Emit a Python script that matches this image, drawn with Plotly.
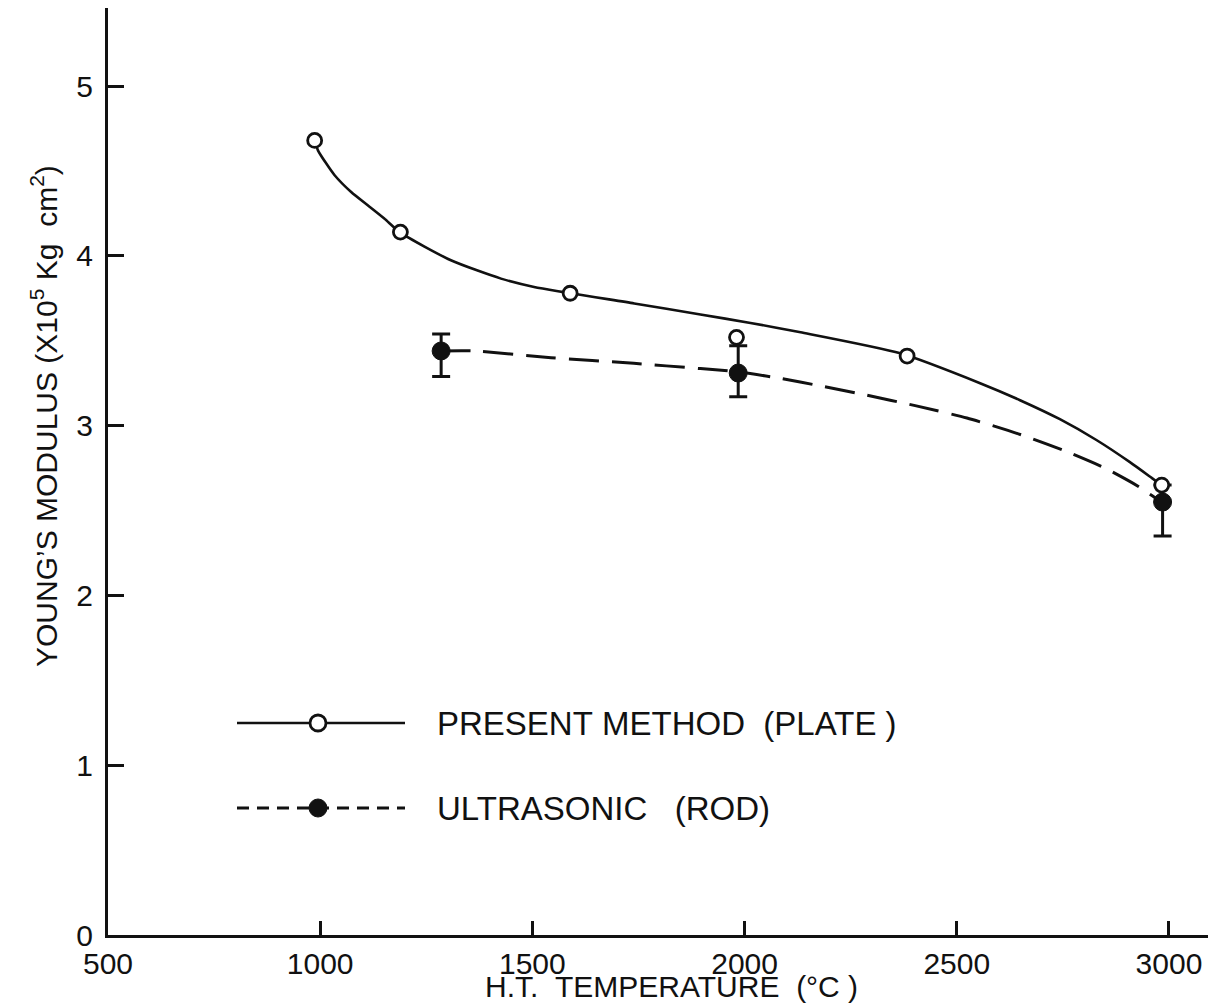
import plotly.graph_objects as go

# ---- data ----
plate_x = [987, 1189, 1589, 1981, 2383, 2983]
plate_y = [4.68, 4.14, 3.78, 3.52, 3.41, 2.65]

rod_x = [1285, 1985, 2985]
rod_y = [3.44, 3.31, 2.55]
rod_err_plus = [0.10, 0.16, 0.10]
rod_err_minus = [0.15, 0.14, 0.20]

# hand-drawn fitted curves
curve_plate_x = [987, 995, 1014, 1034, 1073, 1112, 1151, 1189, 1308, 1426, 1504,
                 1740, 1896, 2014, 2132, 2367, 2555, 2649, 2743, 2830, 2908, 2960, 2983]
curve_plate_y = [4.68, 4.62, 4.545, 4.475, 4.376, 4.298, 4.22, 4.137, 3.974, 3.866, 3.817,
                 3.72, 3.655, 3.605, 3.55, 3.426, 3.25, 3.15, 3.038, 2.914, 2.785, 2.691, 2.649]

curve_rod_x = [1283, 1362, 1544, 1739, 1896, 1983, 2085, 2183, 2289, 2402, 2524,
               2645, 2751, 2850, 2928, 2956, 2984]
curve_rod_y = [3.44, 3.44, 3.40, 3.367, 3.336, 3.318, 3.278, 3.232, 3.179, 3.118, 3.045,
               2.952, 2.855, 2.749, 2.642, 2.595, 2.551]

x_ticks = [500, 1000, 1500, 2000, 2500, 3000]
y_ticks = [0, 1, 2, 3, 4, 5]

legend_labels = ["PRESENT&nbsp;METHOD&nbsp;&nbsp;(PLATE&nbsp;)", "ULTRASONIC&nbsp;&nbsp;&nbsp;(ROD)"]
x_title = "H.T.&nbsp;&nbsp;TEMPERATURE&nbsp;&nbsp;(°C&nbsp;)"
y_title = "YOUNG’S MODULUS (X10<sup>5</sup> Kg&nbsp;&nbsp;cm<sup>2</sup>)"

FONT = "Liberation Sans, Arial, sans-serif"
BLACK = "#111111"

fig = go.Figure()

# curves
fig.add_trace(go.Scatter(
    x=curve_plate_x, y=curve_plate_y, mode="lines",
    line=dict(color=BLACK, width=2.6, shape="spline", smoothing=0.6),
    hoverinfo="skip", showlegend=False))
fig.add_trace(go.Scatter(
    x=curve_rod_x, y=curve_rod_y, mode="lines",
    line=dict(color=BLACK, width=3, shape="spline", smoothing=0.6, dash="30px,13px"),
    hoverinfo="skip", showlegend=False))

# ultrasonic (filled) points with error bars
fig.add_trace(go.Scatter(
    x=rod_x, y=rod_y, mode="markers",
    marker=dict(symbol="circle", size=18, color=BLACK, line=dict(color=BLACK, width=1)),
    error_y=dict(type="data", symmetric=False, array=rod_err_plus, arrayminus=rod_err_minus,
                 color=BLACK, thickness=3, width=9),
    showlegend=False))

# present method (open) points
fig.add_trace(go.Scatter(
    x=plate_x, y=plate_y, mode="markers",
    marker=dict(symbol="circle", size=14, color="white", line=dict(color=BLACK, width=2.8)),
    showlegend=False))

# ---- legend drawn manually ----
def px_x(p):
    return (p - 108) / 1100.0

def px_y(p):
    return (935 - p) / 927.0

shapes = []
rows = [723, 808]
shapes.append(dict(type="line", xref="paper", yref="paper",
                   x0=px_x(237), x1=px_x(405), y0=px_y(rows[0]), y1=px_y(rows[0]),
                   line=dict(color=BLACK, width=2.6)))
shapes.append(dict(type="circle", xref="paper", yref="paper",
                   xsizemode="pixel", ysizemode="pixel",
                   xanchor=px_x(318), yanchor=px_y(rows[0]),
                   x0=-8, x1=8, y0=-8, y1=8,
                   fillcolor="white", line=dict(color=BLACK, width=2.8)))
shapes.append(dict(type="line", xref="paper", yref="paper",
                   x0=px_x(237), x1=px_x(405), y0=px_y(rows[1]), y1=px_y(rows[1]),
                   line=dict(color=BLACK, width=3, dash="12px,8px")))
shapes.append(dict(type="circle", xref="paper", yref="paper",
                   xsizemode="pixel", ysizemode="pixel",
                   xanchor=px_x(318), yanchor=px_y(rows[1]),
                   x0=-9, x1=9, y0=-9, y1=9,
                   fillcolor=BLACK, line=dict(color=BLACK, width=1)))

annotations = []
for r, lab in zip(rows, legend_labels):
    annotations.append(dict(xref="paper", yref="paper", x=px_x(435), y=px_y(r),
                            xanchor="left", yanchor="middle", showarrow=False,
                            text=lab, font=dict(family=FONT, size=33, color=BLACK)))

# axis titles as annotations
annotations.append(dict(xref="paper", yref="paper", x=px_x(671), y=px_y(1005),
                        xanchor="center", yanchor="bottom", showarrow=False,
                        text=x_title, font=dict(family=FONT, size=30, color=BLACK)))
annotations.append(dict(xref="paper", yref="paper", x=px_x(44), y=px_y(416),
                        xanchor="center", yanchor="middle", showarrow=False,
                        textangle=-90,
                        text=y_title, font=dict(family=FONT, size=30, color=BLACK)))

fig.update_layout(
    width=1230, height=1005,
    margin=dict(l=108, r=22, t=8, b=70),
    paper_bgcolor="white", plot_bgcolor="white",
    font=dict(family=FONT, color=BLACK),
    shapes=shapes, annotations=annotations,
    xaxis=dict(range=[500, 3092], tickvals=x_ticks, ticktext=[str(v) for v in x_ticks],
               ticks="inside", ticklen=14, tickwidth=2.5, tickcolor=BLACK,
               showline=True, linewidth=3, linecolor=BLACK,
               showgrid=False, zeroline=False,
               tickfont=dict(family=FONT, size=30, color=BLACK)),
    yaxis=dict(range=[0, 5.46], tickvals=y_ticks, ticktext=[str(v) for v in y_ticks],
               ticks="inside", ticklen=16, tickwidth=2.5, tickcolor=BLACK,
               showline=True, linewidth=3, linecolor=BLACK,
               showgrid=False, zeroline=False, ticklabelstandoff=6,
               tickfont=dict(family=FONT, size=30, color=BLACK)),
)

fig.write_html("out.html")
